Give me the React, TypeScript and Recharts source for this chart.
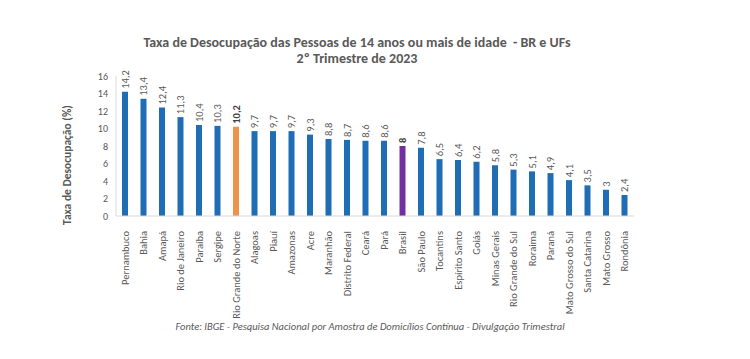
import { BarChart, Bar, XAxis, YAxis, Cell, LabelList } from "recharts";

const ufs = [
  "Pernambuco", "Bahia", "Amapá", "Rio de Janeiro", "Paraíba", "Sergipe", "Rio Grande do Norte",
  "Alagoas", "Piauí", "Amazonas", "Acre", "Maranhão", "Distrito Federal", "Ceará", "Pará", "Brasil",
  "São Paulo", "Tocantins", "Espírito Santo", "Goiás", "Minas Gerais", "Rio Grande do Sul", "Roraima",
  "Paraná", "Mato Grosso do Sul", "Santa Catarina", "Mato Grosso", "Rondônia",
];

const taxa = [
  14.2, 13.4, 12.4, 11.3, 10.4, 10.3, 10.2, 9.7, 9.7, 9.7, 9.3, 8.8, 8.7, 8.6, 8.6, 8,
  7.8, 6.5, 6.4, 6.2, 5.8, 5.3, 5.1, 4.9, 4.1, 3.5, 3, 2.4,
];

const yTicks = [0, 2, 4, 6, 8, 10, 12, 14, 16];

const highlight: Record<string, string> = {
  "Rio Grande do Norte": "#f0924a",
  Brasil: "#7030a0",
};

const data = ufs.map((uf, i) => ({ uf, taxa: taxa[i] }));

const font = "Calibri, Carlito, 'Liberation Sans', Arial, sans-serif";
const gray = "#595959";

const fmt = (v: number) => String(v).replace(".", ",");

const XTick = (props: any) => {
  const { x, y, payload } = props;
  return (
    <text
      x={x}
      y={y + 7}
      transform={`rotate(-90, ${x}, ${y + 7})`}
      textAnchor="end"
      dominantBaseline="central"
      fontSize={10.5}
      fill={gray}
      fontFamily={font}
    >
      {payload.value}
    </text>
  );
};

const ValueLabel = (props: any) => {
  const { x, y, width, value, index } = props;
  const cx = x + width / 2;
  const cy = y - 3;
  const bold = highlight[ufs[index]] !== undefined;
  return (
    <text
      x={cx}
      y={cy}
      transform={`rotate(-90, ${cx}, ${cy})`}
      textAnchor="start"
      dominantBaseline="central"
      fontSize={10.5}
      fontWeight={bold ? "bold" : "normal"}
      fill={bold ? "#404040" : gray}
      fontFamily={font}
    >
      {fmt(value)}
    </text>
  );
};

export default function App() {
  return (
    <div style={{ position: "absolute", left: 0, top: 0, width: 750, height: 359, background: "#fff", fontFamily: font }}>
      <div
        style={{
          position: "absolute",
          top: 35,
          left: 0,
          width: 714,
          textAlign: "center",
          fontSize: 14,
          fontWeight: "bold",
          color: gray,
          lineHeight: "16px",
        }}
      >
        Taxa de Desocupação das Pessoas de 14 anos ou mais de idade&nbsp; - BR e UFs
        <br />
        2º Trimestre de 2023
      </div>
      <BarChart
        width={750}
        height={359}
        data={data}
        margin={{ top: 76, right: 116, left: 0, bottom: 0 }}
        barCategoryGap={0}
      >
        <XAxis
          dataKey="uf"
          interval={0}
          height={143}
          tick={<XTick />}
          tickLine={false}
          axisLine={{ stroke: "#d9d9d9" }}
        />
        <YAxis
          width={116}
          domain={[0, 16]}
          ticks={yTicks}
          tick={{ fontSize: 10, fill: gray, fontFamily: font }}
          tickLine={false}
          axisLine={{ stroke: "#d9d9d9" }}
        />
        <Bar dataKey="taxa" barSize={6} isAnimationActive={false}>
          {data.map((d) => (
            <Cell key={d.uf} fill={highlight[d.uf] ?? "#1f6db5"} />
          ))}
          <LabelList dataKey="taxa" content={<ValueLabel />} />
        </Bar>
      </BarChart>
      <svg width={750} height={359} style={{ position: "absolute", left: 0, top: 0, pointerEvents: "none" }}>
        <text
          x={67}
          y={165}
          transform="rotate(-90, 67, 165)"
          textAnchor="middle"
          dominantBaseline="central"
          fontSize={11.5}
          fontWeight="bold"
          fill={gray}
          fontFamily={font}
        >
          Taxa de Desocupação (%)
        </text>
      </svg>
      <div
        style={{
          position: "absolute",
          top: 320,
          left: 0,
          width: 740,
          textAlign: "center",
          fontSize: 10.5,
          fontStyle: "italic",
          color: gray,
        }}
      >
        Fonte: IBGE - Pesquisa Nacional por Amostra de Domicílios Contínua - Divulgação Trimestral
      </div>
    </div>
  );
}
